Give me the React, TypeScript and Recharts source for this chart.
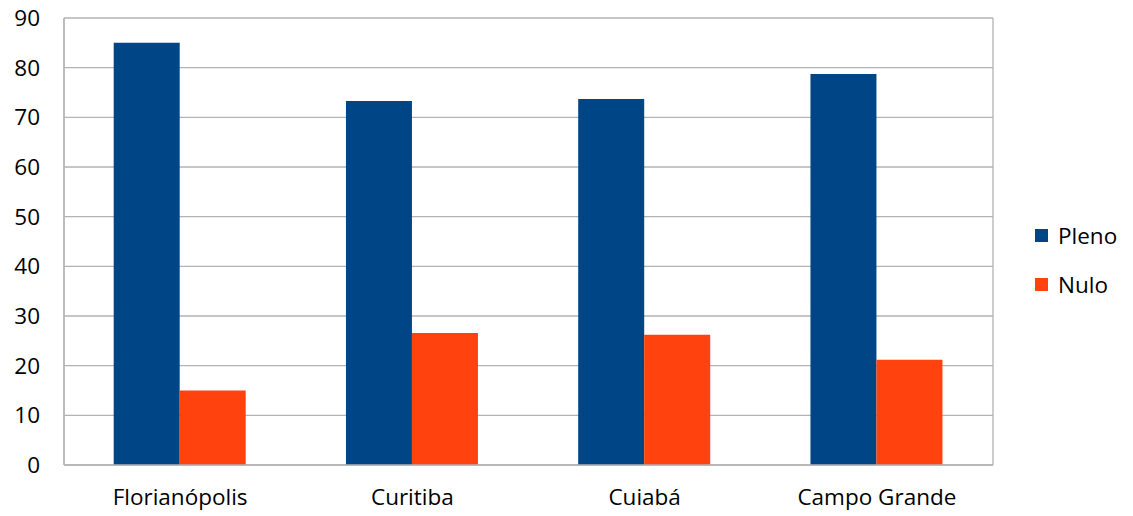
import { BarChart, Bar, XAxis, YAxis, CartesianGrid } from 'recharts'

const cities = ['Florianópolis', 'Curitiba', 'Cuiabá', 'Campo Grande']
const pleno = [85, 73.3, 73.7, 78.7]
const nulo = [15, 26.6, 26.2, 21.2]
const yTicks = [0, 10, 20, 30, 40, 50, 60, 70, 80, 90]

const series = [
  { key: 'pleno', name: 'Pleno', color: '#004586' },
  { key: 'nulo', name: 'Nulo', color: '#ff420e' },
]

const data = cities.map((city, i) => ({ city, pleno: pleno[i], nulo: nulo[i] }))

const font = '"Open Sans", sans-serif'
const fontSize = 22.5
const gridColor = '#b3b3b3'

// left and right edges of the plot area, so the grid draws a frame
const frameEdges = ({ offset }: any) => [offset.left, offset.left + offset.width]

export default function App() {
  return (
    <div style={{ position: 'absolute', left: 0, top: 0, width: 1133, height: 516, background: '#fff' }}>
      <BarChart
        width={1133}
        height={516}
        data={data}
        margin={{ top: 18, right: 140, bottom: 0, left: 0 }}
        barCategoryGap="21.4%"
        barGap={0}
      >
        <CartesianGrid
          stroke={gridColor}
          strokeWidth={1.3}
          verticalCoordinatesGenerator={frameEdges}
        />
        <XAxis
          dataKey="city"
          tickLine={false}
          tickSize={0}
          tickMargin={24}
          axisLine={{ stroke: gridColor, strokeWidth: 1.3 }}
          tick={{ fill: '#000', fontSize, fontFamily: font }}
          height={51}
        />
        <YAxis
          domain={[0, 90]}
          ticks={yTicks}
          interval={0}
          tickLine={false}
          tickSize={0}
          tickMargin={24}
          width={64}
          axisLine={{ stroke: gridColor, strokeWidth: 1.3 }}
          tick={{ fill: '#000', fontSize, fontFamily: font }}
        />
        {series.map((s) => (
          <Bar
            key={s.key}
            dataKey={s.key}
            name={s.name}
            fill={s.color}
            isAnimationActive={false}
          />
        ))}
      </BarChart>
      <div
        style={{
          position: 'absolute',
          left: 1035,
          top: 211,
          fontFamily: font,
          fontSize,
          color: '#000',
        }}
      >
        {series.map((s) => (
          <div key={s.key} style={{ display: 'flex', alignItems: 'center', height: 49 }}>
            <span
              style={{
                display: 'inline-block',
                width: 13,
                height: 13,
                background: s.color,
                marginRight: 10,
              }}
            />
            {s.name}
          </div>
        ))}
      </div>
    </div>
  )
}
